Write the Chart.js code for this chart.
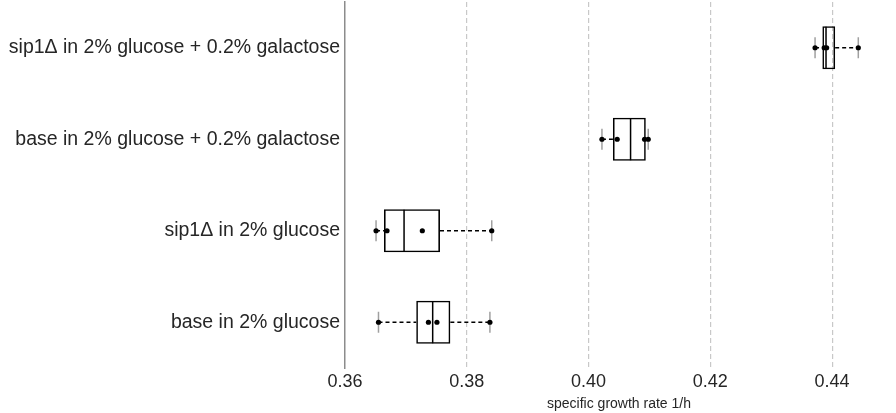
<!DOCTYPE html>
<html>
<head>
<meta charset="utf-8">
<script src="https://cdn.jsdelivr.net/npm/chart.js@4.4.1/dist/chart.umd.min.js"></script>
<style>
  body { margin: 0; background: #fff; }
  #wrap { width: 896px; height: 413px; }
</style>
</head>
<body>
<div id="wrap"><canvas id="growth"></canvas></div>
<script>
// growth rate per strain / medium, 4 replicates each
const categories = [
  'sip1\u0394 in 2% glucose + 0.2% galactose',
  'base in 2% glucose + 0.2% galactose',
  'sip1\u0394 in 2% glucose',
  'base in 2% glucose'
]
const mins    = [0.4372, 0.4022, 0.3651, 0.3655]
const q1s     = [0.4384, 0.4040, 0.3664, 0.3717]
const medians = [0.4390, 0.4069, 0.3697, 0.3744]
const q3s     = [0.4405, 0.4094, 0.3756, 0.3773]
const maxs    = [0.4443, 0.4098, 0.3841, 0.3838]
const replicates = [
  [0.4372, 0.4387, 0.4391, 0.4443],
  [0.4022, 0.4047, 0.4092, 0.4098],
  [0.3651, 0.3669, 0.3727, 0.3841],
  [0.3655, 0.3737, 0.3751, 0.3838]
]
const xTicks = [0.36, 0.38, 0.40, 0.42, 0.44]

Chart.defaults.font.family = '"Liberation Sans", Arial, sans-serif'
Chart.defaults.color = '#262626'

const ctx = document.getElementById('growth').getContext('2d')

new Chart(ctx, {
  type: 'bar',
  data: {
    labels: categories,
    datasets: [
      {
        type: 'scatter',
        label: 'replicates',
        data: categories.flatMap((c, i) => replicates[i].map(v => ({x: v, y: c}))),
        pointStyle: 'circle',
        pointRadius: 2.6,
        backgroundColor: '#000',
        borderWidth: 0,
        order: 1
      },
      {
        type: 'scatter',
        label: 'median',
        data: categories.map((c, i) => ({x: medians[i], y: c})),
        pointStyle: 'line',
        rotation: 90,
        pointRadius: 21,
        borderColor: '#000',
        borderWidth: 1.5,
        order: 2
      },
      {
        type: 'scatter',
        label: 'caps',
        data: categories.flatMap((c, i) => [{x: mins[i], y: c}, {x: maxs[i], y: c}]),
        pointStyle: 'line',
        rotation: 90,
        pointRadius: 10.5,
        borderColor: '#a0a0a0',
        borderWidth: 1.5,
        order: 3
      },
      {
        type: 'scatter',
        label: 'whiskers',
        showLine: true,
        spanGaps: false,
        data: categories.flatMap((c, i) => [
          {x: mins[i], y: c}, {x: q1s[i], y: c}, {x: null, y: c},
          {x: q3s[i], y: c}, {x: maxs[i], y: c}, {x: null, y: c}
        ]),
        borderColor: '#000',
        borderWidth: 1.5,
        borderDash: [4, 3],
        pointRadius: 0,
        order: 4
      },
      {
        label: 'box',
        data: categories.map((c, i) => [q1s[i], q3s[i]]),
        backgroundColor: 'transparent',
        borderColor: '#000',
        borderWidth: 1.6,
        borderSkipped: false,
        barPercentage: 0.47,
        categoryPercentage: 1,
        order: 5
      }
    ]
  },
  options: {
    indexAxis: 'y',
    responsive: true,
    maintainAspectRatio: false,
    animation: false,
    layout: { autoPadding: false, padding: { top: 2, right: 3, left: 0, bottom: 0 } },
    plugins: {
      legend: { display: false },
      tooltip: { enabled: false }
    },
    scales: {
      x: {
        type: 'linear',
        min: 0.36,
        max: 0.45,
        afterBuildTicks: scale => { scale.ticks = xTicks.map(v => ({value: v})) },
        afterFit: scale => { scale.height = 45; scale.paddingRight = 0; scale.paddingLeft = 0 },
        ticks: {
          padding: 3,
          font: { size: 18 },
          callback: v => v.toFixed(2)
        },
        grid: {
          drawTicks: false,
          lineWidth: 1.2,
          color: c => Math.abs(c.tick.value - 0.36) < 1e-9 ? 'transparent' : '#c8c8c8'
        },
        border: { display: false, dash: [5, 3] },
        title: {
          display: true,
          text: 'specific growth rate 1/h',
          font: { size: 14 },
          padding: { top: 0, bottom: 0 }
        }
      },
      y: {
        type: 'category',
        labels: categories,
        afterFit: scale => { scale.width = 345; scale.paddingTop = 0; scale.paddingBottom = 0 },
        ticks: {
          padding: 5,
          font: { size: 19.5 }
        },
        grid: { display: false, drawTicks: false },
        border: { display: true, color: '#8c8c8c', width: 1.5 }
      }
    }
  }
})
</script>
</body>
</html>
